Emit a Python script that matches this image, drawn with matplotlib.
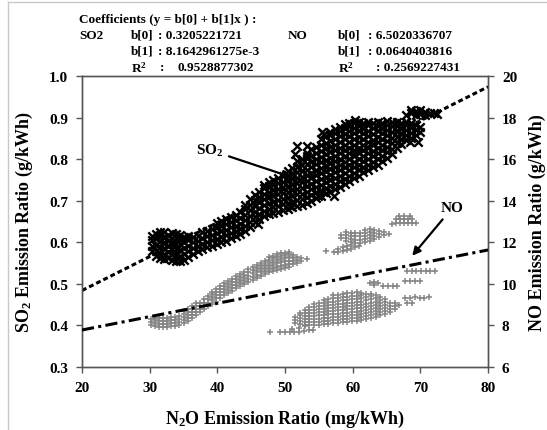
import matplotlib
matplotlib.use("Agg")
import matplotlib.pyplot as plt
from matplotlib.lines import Line2D

plt.rcParams["font.family"] = "Liberation Serif"
plt.rcParams["font.weight"] = "bold"
plt.rcParams["mathtext.fontset"] = "custom"
plt.rcParams["mathtext.rm"] = "Liberation Serif:bold"
plt.rcParams["mathtext.it"] = "Liberation Serif:italic:bold"
plt.rcParams["mathtext.bf"] = "Liberation Serif:bold"
plt.rcParams["mathtext.default"] = "rm"

# ---- SO2 emission ratio (g/kWh) vs N2O (mg/kWh), left axis ----
so2_cols = [30.4, 30.9, 31.5, 32.1, 32.7, 33.3, 33.9, 34.5, 35.1, 35.7,
            36.4, 37.1, 37.8, 38.5, 39.2, 39.9, 40.6, 41.3, 42.0, 42.7,
            43.4, 44.1, 44.8, 45.5, 46.2, 46.9, 47.6, 48.3, 49.0, 49.7,
            50.4, 51.1, 51.8, 52.5, 53.2, 53.9, 54.6, 55.3, 56.0, 56.7,
            57.4, 58.1, 58.8, 59.5, 60.2, 60.9, 61.6, 62.3, 63.0, 63.7,
            64.4, 65.1, 65.8, 66.5, 67.2, 67.9, 68.6, 69.3, 70.0]
so2_vals = [
    [0.578, 0.592, 0.606, 0.615],
    [0.566, 0.580, 0.594, 0.608, 0.620],
    [0.562, 0.575, 0.589, 0.603, 0.617, 0.624],
    [0.560, 0.573, 0.587, 0.600, 0.613, 0.625],
    [0.563, 0.577, 0.591, 0.604, 0.618],
    [0.558, 0.571, 0.585, 0.598, 0.611, 0.622],
    [0.556, 0.569, 0.583, 0.597, 0.610, 0.620],
    [0.555, 0.568, 0.582, 0.595, 0.608, 0.617],
    [0.558, 0.572, 0.586, 0.600, 0.613],
    [0.565, 0.578, 0.592, 0.605, 0.614],
    [0.572, 0.586, 0.600, 0.612],
    [0.578, 0.590, 0.603, 0.616],
    [0.585, 0.597, 0.610, 0.624],
    [0.588, 0.601, 0.614, 0.628],
    [0.592, 0.605, 0.618, 0.632],
    [0.596, 0.609, 0.622, 0.636, 0.647],
    [0.600, 0.613, 0.626, 0.640, 0.652],
    [0.604, 0.617, 0.630, 0.643, 0.655],
    [0.610, 0.623, 0.636, 0.649, 0.660],
    [0.614, 0.627, 0.640, 0.653, 0.666],
    [0.619, 0.632, 0.645, 0.658, 0.672],
    [0.627, 0.640, 0.653, 0.666, 0.680, 0.690],
    [0.637, 0.650, 0.663, 0.677, 0.690, 0.703],
    [0.648, 0.661, 0.674, 0.688, 0.701, 0.714],
    [0.656, 0.669, 0.682, 0.696, 0.709, 0.722],
    [0.663, 0.676, 0.690, 0.703, 0.716, 0.730, 0.738],
    [0.668, 0.681, 0.695, 0.708, 0.721, 0.735, 0.746],
    [0.671, 0.685, 0.698, 0.712, 0.725, 0.738, 0.751],
    [0.674, 0.688, 0.701, 0.715, 0.728, 0.742, 0.755],
    [0.678, 0.691, 0.705, 0.718, 0.732, 0.745, 0.759],
    [0.681, 0.695, 0.708, 0.722, 0.735, 0.749, 0.762, 0.772],
    [0.684, 0.698, 0.711, 0.725, 0.738, 0.752, 0.765, 0.778],
    [0.688, 0.701, 0.715, 0.728, 0.742, 0.755, 0.769, 0.782, 0.795],
    [0.690, 0.704, 0.717, 0.731, 0.744, 0.758, 0.771, 0.785, 0.800],
    [0.694, 0.708, 0.721, 0.735, 0.748, 0.762, 0.775, 0.789, 0.803, 0.814],
    [0.700, 0.713, 0.727, 0.740, 0.754, 0.767, 0.781, 0.794, 0.808, 0.824],
    [0.707, 0.720, 0.734, 0.747, 0.761, 0.774, 0.788, 0.801, 0.815, 0.830],
    [0.712, 0.725, 0.739, 0.752, 0.766, 0.779, 0.793, 0.806, 0.820, 0.835, 0.848],
    [0.718, 0.731, 0.745, 0.758, 0.772, 0.785, 0.799, 0.812, 0.826, 0.840, 0.855],
    [0.722, 0.736, 0.749, 0.763, 0.776, 0.790, 0.803, 0.817, 0.830, 0.844, 0.858, 0.866],
    [0.727, 0.741, 0.754, 0.768, 0.781, 0.795, 0.808, 0.822, 0.835, 0.849, 0.862, 0.872],
    [0.733, 0.747, 0.760, 0.774, 0.787, 0.801, 0.814, 0.828, 0.841, 0.855, 0.868, 0.878],
    [0.740, 0.753, 0.767, 0.780, 0.794, 0.807, 0.821, 0.834, 0.848, 0.861, 0.874, 0.884],
    [0.747, 0.760, 0.774, 0.787, 0.801, 0.814, 0.828, 0.841, 0.855, 0.868, 0.880, 0.888],
    [0.754, 0.767, 0.781, 0.794, 0.808, 0.821, 0.835, 0.848, 0.862, 0.875, 0.886],
    [0.760, 0.773, 0.787, 0.800, 0.814, 0.827, 0.841, 0.854, 0.868, 0.880, 0.889],
    [0.768, 0.781, 0.795, 0.808, 0.822, 0.835, 0.849, 0.862, 0.876, 0.887],
    [0.774, 0.787, 0.801, 0.814, 0.828, 0.841, 0.855, 0.868, 0.881, 0.890],
    [0.780, 0.793, 0.807, 0.820, 0.834, 0.847, 0.861, 0.874, 0.886],
    [0.787, 0.800, 0.814, 0.827, 0.841, 0.854, 0.868, 0.880, 0.890],
    [0.795, 0.808, 0.822, 0.835, 0.849, 0.862, 0.875, 0.886],
    [0.803, 0.816, 0.830, 0.843, 0.857, 0.870, 0.882, 0.891],
    [0.812, 0.825, 0.839, 0.852, 0.866, 0.879, 0.890],
    [0.826, 0.839, 0.853, 0.866, 0.879, 0.890],
    [0.836, 0.849, 0.862, 0.875, 0.887],
    [0.846, 0.858, 0.870, 0.882, 0.890],
    [0.852, 0.864, 0.876, 0.887],
    [0.858, 0.870, 0.882],
    [0.865, 0.877],
]
so2_top = [(67.9, 0.905), (68.6, 0.910), (68.6, 0.918), (69.3, 0.906), (69.3, 0.915),
           (70.0, 0.908), (70.0, 0.918), (70.7, 0.906), (70.7, 0.914), (71.4, 0.910),
           (72.0, 0.912), (72.5, 0.909)]
so2_stray = [(51.8, 0.832), (53.2, 0.832), (53.2, 0.808), (51.9, 0.784), (50.7, 0.687),
             (55.5, 0.865), (51.5, 0.812), (54.9, 0.711), (68.5, 0.841), (69.7, 0.841),
             (55.8, 0.860), (60.4, 0.895), (57.2, 0.712), (46.0, 0.645)]

# ---- NO emission ratio (g/kWh), right axis ----
no_band_cols = [30.2, 30.8, 31.4, 32.0, 32.6, 33.2, 33.8, 34.4, 35.0, 35.6,
                36.2, 36.8, 37.4, 38.0, 38.6, 39.2, 39.8, 40.4, 41.0, 41.6,
                42.2, 42.8, 43.4, 44.0, 44.6, 45.2, 45.8, 46.4, 47.0, 47.6,
                48.2, 48.8, 49.4, 50.0, 50.6, 51.2, 51.8, 52.4, 53.2]
no_band_vals = [
    [8.00, 8.15, 8.30], [7.95, 8.10, 8.25, 8.38], [7.93, 8.08, 8.23, 8.38],
    [7.93, 8.08, 8.23, 8.36], [7.93, 8.08, 8.23, 8.36], [7.95, 8.10, 8.25, 8.40],
    [7.97, 8.12, 8.27, 8.42], [8.02, 8.17, 8.32, 8.47], [8.10, 8.25, 8.40, 8.55, 8.70],
    [8.20, 8.35, 8.50, 8.65, 8.80], [8.35, 8.50, 8.65, 8.80, 8.95],
    [8.50, 8.65, 8.80, 8.95, 9.10], [8.65, 8.80, 8.95, 9.10], [8.80, 8.95, 9.10, 9.25],
    [8.95, 9.10, 9.25, 9.40], [9.05, 9.20, 9.35, 9.50, 9.62],
    [9.15, 9.30, 9.45, 9.60, 9.75], [9.30, 9.45, 9.60, 9.75, 9.90],
    [9.45, 9.60, 9.75, 9.90, 10.03], [9.55, 9.70, 9.85, 10.00, 10.15],
    [9.65, 9.80, 9.95, 10.10, 10.25], [9.78, 9.93, 10.08, 10.23, 10.38],
    [9.88, 10.03, 10.18, 10.33, 10.48], [10.00, 10.15, 10.30, 10.45, 10.58],
    [10.10, 10.25, 10.40, 10.55, 10.70], [10.20, 10.35, 10.50, 10.65, 10.80],
    [10.30, 10.45, 10.60, 10.75, 10.90], [10.40, 10.55, 10.70, 10.85, 11.00],
    [10.48, 10.63, 10.78, 10.93, 11.08], [10.55, 10.70, 10.85, 11.00, 11.15, 11.28],
    [10.62, 10.77, 10.92, 11.07, 11.22, 11.35], [10.68, 10.83, 10.98, 11.13, 11.28, 11.42],
    [10.73, 10.88, 11.03, 11.18, 11.33, 11.47], [10.78, 10.93, 11.08, 11.23, 11.38, 11.50],
    [10.82, 10.97, 11.12, 11.27, 11.42, 11.52], [10.95, 11.10, 11.25, 11.40],
    [11.00, 11.15, 11.30], [11.10, 11.25], [11.20],
]
no_upper = [(58.3, 12.20), (58.3, 12.35), (59.0, 12.05), (59.0, 12.20), (59.0, 12.35), (59.0, 12.50),
            (59.7, 12.00), (59.7, 12.15), (59.7, 12.30), (59.7, 12.45), (60.4, 11.98), (60.4, 12.13),
            (60.4, 12.28), (60.4, 12.43), (61.1, 11.98), (61.1, 12.13), (61.1, 12.28), (61.1, 12.43),
            (61.8, 12.00), (61.8, 12.15), (61.8, 12.30), (61.8, 12.45), (61.8, 12.60), (62.5, 12.05),
            (62.5, 12.20), (62.5, 12.35), (62.5, 12.50), (62.5, 12.62), (63.2, 12.15), (63.2, 12.30),
            (63.2, 12.45), (63.2, 12.60), (63.9, 12.25), (63.9, 12.40), (63.9, 12.55), (64.6, 12.35),
            (64.6, 12.50), (65.3, 12.40), (57.3, 11.55), (57.9, 11.55), (57.9, 11.70), (58.5, 11.60),
            (58.5, 11.75), (59.1, 11.65), (59.1, 11.80), (59.7, 11.70), (59.7, 11.85), (60.3, 11.75),
            (60.9, 11.80), (56.0, 11.58), (65.8, 12.90), (66.4, 12.95), (67.0, 12.95), (67.6, 12.92),
            (68.2, 12.92), (68.8, 12.95), (69.4, 12.95), (66.4, 13.10), (67.0, 13.12), (67.6, 13.10),
            (68.2, 13.10), (68.8, 13.10), (66.8, 13.25), (67.6, 13.27), (68.4, 13.25)]
no_low_cols = [51.5, 52.2, 52.9, 53.6, 54.3, 55.0, 55.7, 56.4, 57.1, 57.8,
               58.5, 59.2, 59.9, 60.6, 61.3, 62.0, 62.7, 63.4, 64.1, 64.8, 65.5, 66.2]
no_low_vals = [
    [8.10, 8.25, 8.42], [8.05, 8.20, 8.35, 8.50, 8.62],
    [8.00, 8.15, 8.30, 8.45, 8.60, 8.75], [8.00, 8.15, 8.30, 8.45, 8.60, 8.75, 8.90],
    [8.00, 8.15, 8.30, 8.45, 8.60, 8.75, 8.90, 9.02],
    [8.03, 8.18, 8.33, 8.48, 8.63, 8.78, 8.93, 9.08],
    [8.05, 8.20, 8.35, 8.50, 8.65, 8.80, 8.95, 9.10, 9.22],
    [8.08, 8.23, 8.38, 8.53, 8.68, 8.83, 8.98, 9.13, 9.28],
    [8.10, 8.25, 8.40, 8.55, 8.70, 8.85, 9.00, 9.15, 9.30, 9.45],
    [8.12, 8.27, 8.42, 8.57, 8.72, 8.87, 9.02, 9.17, 9.32, 9.48],
    [8.15, 8.30, 8.45, 8.60, 8.75, 8.90, 9.05, 9.20, 9.35, 9.52],
    [8.17, 8.32, 8.47, 8.62, 8.77, 8.92, 9.07, 9.22, 9.37, 9.55],
    [8.20, 8.35, 8.50, 8.65, 8.80, 8.95, 9.10, 9.25, 9.40, 9.58],
    [8.22, 8.37, 8.52, 8.67, 8.82, 8.97, 9.12, 9.27, 9.42, 9.60],
    [8.25, 8.40, 8.55, 8.70, 8.85, 9.00, 9.15, 9.30, 9.45, 9.58],
    [8.30, 8.45, 8.60, 8.75, 8.90, 9.05, 9.20, 9.35, 9.50],
    [8.35, 8.50, 8.65, 8.80, 8.95, 9.10, 9.25, 9.40, 9.52],
    [8.40, 8.55, 8.70, 8.85, 9.00, 9.15, 9.30, 9.45],
    [8.48, 8.63, 8.78, 8.93, 9.08, 9.23, 9.38],
    [8.55, 8.70, 8.85, 9.00, 9.15, 9.28],
    [8.65, 8.80, 8.95, 9.10], [8.80, 8.95, 9.10],
]
no_stray = [(62.6, 10.05), (63.2, 10.10), (63.8, 10.05), (63.2, 9.95), (64.5, 9.90), (65.2, 9.92),
            (65.9, 9.90), (66.5, 9.92), (68.0, 10.62), (68.7, 10.62), (69.4, 10.60), (70.1, 10.62),
            (70.8, 10.60), (71.5, 10.62), (72.2, 10.60), (67.8, 10.14), (68.5, 10.14), (69.2, 10.12),
            (69.9, 10.14), (67.8, 9.33), (68.5, 9.33), (69.2, 9.35), (69.9, 9.33), (70.6, 9.33),
            (71.3, 9.35), (68.0, 9.08), (68.7, 9.06), (66.9, 9.00), (47.8, 7.69), (49.3, 7.68),
            (50.0, 7.66), (50.7, 7.68), (51.4, 7.66), (52.1, 7.70), (52.8, 7.74), (53.5, 7.80),
            (54.2, 7.78), (51.0, 7.85), (52.0, 7.88), (53.0, 7.95)]

# regression lines, end points read at x = 20 and x = 80
fit_x = [20, 80]
so2_fit = [0.484, 0.974]
no_fit = [7.78, 11.63]


def flatten(cols, vals):
    xs, ys = [], []
    for c, vs in zip(cols, vals):
        for v in vs:
            xs.append(c)
            ys.append(v)
    return xs, ys


def main():
    fig = plt.figure(figsize=(5.47, 4.31), dpi=100)
    ax = fig.add_axes([82 / 547, 1 - 368 / 431, 406 / 547, 291 / 431])
    ax2 = ax.twinx()

    sx, sy = flatten(so2_cols, so2_vals)
    sx += [p[0] for p in so2_top + so2_stray]
    sy += [p[1] for p in so2_top + so2_stray]
    ax.scatter(sx, sy, marker="x", s=36, color="black", linewidths=1.7, zorder=2)
    ax.plot(fit_x, so2_fit, color="black", lw=2.2, linestyle=(0, (1.6, 1.0)), zorder=3)

    nx, ny = flatten(no_band_cols, no_band_vals)
    lx, ly = flatten(no_low_cols, no_low_vals)
    nx += lx + [p[0] for p in no_upper + no_stray]
    ny += ly + [p[1] for p in no_upper + no_stray]
    ax2.scatter(nx, ny, marker="+", s=20, color="#858585", linewidths=1.1, zorder=2)
    ax2.plot(fit_x, no_fit, color="black", lw=2.2, linestyle=(0, (4, 1.4, 1, 1.4)), zorder=3)

    ax.set_xlim(20, 80)
    ax.set_ylim(0.3, 1.0)
    ax2.set_ylim(6, 20)
    ax.set_xticks(range(20, 81, 10))
    ax.set_yticks([0.3, 0.4, 0.5, 0.6, 0.7, 0.8, 0.9, 1.0])
    ax.set_yticklabels(["%.1f" % v for v in ax.get_yticks()])
    ax2.set_yticks(range(6, 21, 2))

    for a in (ax, ax2):
        for sp in a.spines.values():
            sp.set_color("#555555")
            sp.set_linewidth(1.0)
        a.tick_params(direction="out", length=4, width=1.0, color="#555555",
                      labelsize=11, pad=6)

    ax.set_xlabel("N$_2$O Emission Ratio (mg/kWh)", fontsize=13, fontweight="bold", labelpad=10)
    ax.set_ylabel("SO$_2$ Emission Ratio (g/kWh)", fontsize=13, fontweight="bold", labelpad=10)
    ax2.set_ylabel("NO Emission Ratio (g/kWh)", fontsize=13, fontweight="bold", labelpad=8)

    arrow = dict(arrowstyle="-|>", color="black", lw=1.6, mutation_scale=12, shrinkA=2, shrinkB=0)
    ax.annotate("SO$_2$", xy=(50.9, 0.757), xytext=(38.9, 0.822), fontsize=11,
                fontweight="bold", ha="center", va="center", arrowprops=arrow)
    ax2.annotate("NO", xy=(68.8, 11.35), xytext=(74.7, 13.65), fontsize=11,
                 fontweight="bold", ha="center", va="center", arrowprops=arrow)

    # coefficient box above the plot
    fs = 9.5
    rows = [1 - 20 / 431, 1 - 36 / 431, 1 - 52 / 431, 1 - 68 / 431]
    fig.text(79 / 547, rows[0], "Coefficients (y = b[0] + b[1]x ) :", fontsize=fs, va="center")
    fig.text(79 / 547, rows[1], "SO2", fontsize=fs, va="center")
    fig.text(131 / 547, rows[1], "b[0]", fontsize=fs, va="center")
    fig.text(158 / 547, rows[1], ": 0.3205221721", fontsize=fs, va="center")
    fig.text(131 / 547, rows[2], "b[1]", fontsize=fs, va="center")
    fig.text(158 / 547, rows[2], ": 8.1642961275e-3", fontsize=fs, va="center")
    fig.text(131 / 547, rows[3], "R$^2$", fontsize=fs, va="center")
    fig.text(160 / 547, rows[3], ":", fontsize=fs, va="center")
    fig.text(178 / 547, rows[3], "0.9528877302", fontsize=fs, va="center")
    fig.text(288 / 547, rows[1], "NO", fontsize=fs, va="center")
    fig.text(338 / 547, rows[1], "b[0]", fontsize=fs, va="center")
    fig.text(368 / 547, rows[1], ": 6.5020336707", fontsize=fs, va="center")
    fig.text(338 / 547, rows[2], "b[1]", fontsize=fs, va="center")
    fig.text(368 / 547, rows[2], ": 0.0640403816", fontsize=fs, va="center")
    fig.text(338 / 547, rows[3], "R$^2$", fontsize=fs, va="center")
    fig.text(376 / 547, rows[3], ": 0.2569227431", fontsize=fs, va="center")

    # thin grey frame of the original figure
    fig.add_artist(Line2D([8 / 547, 8 / 547], [0, 1 - 3 / 431], transform=fig.transFigure,
                          color="#c8c8c8", lw=1))
    fig.add_artist(Line2D([8 / 547, 1], [1 - 3 / 431, 1 - 3 / 431], transform=fig.transFigure,
                          color="#c8c8c8", lw=1))

    fig.savefig("out.png", dpi=100)


if __name__ == '__main__':
    main()
